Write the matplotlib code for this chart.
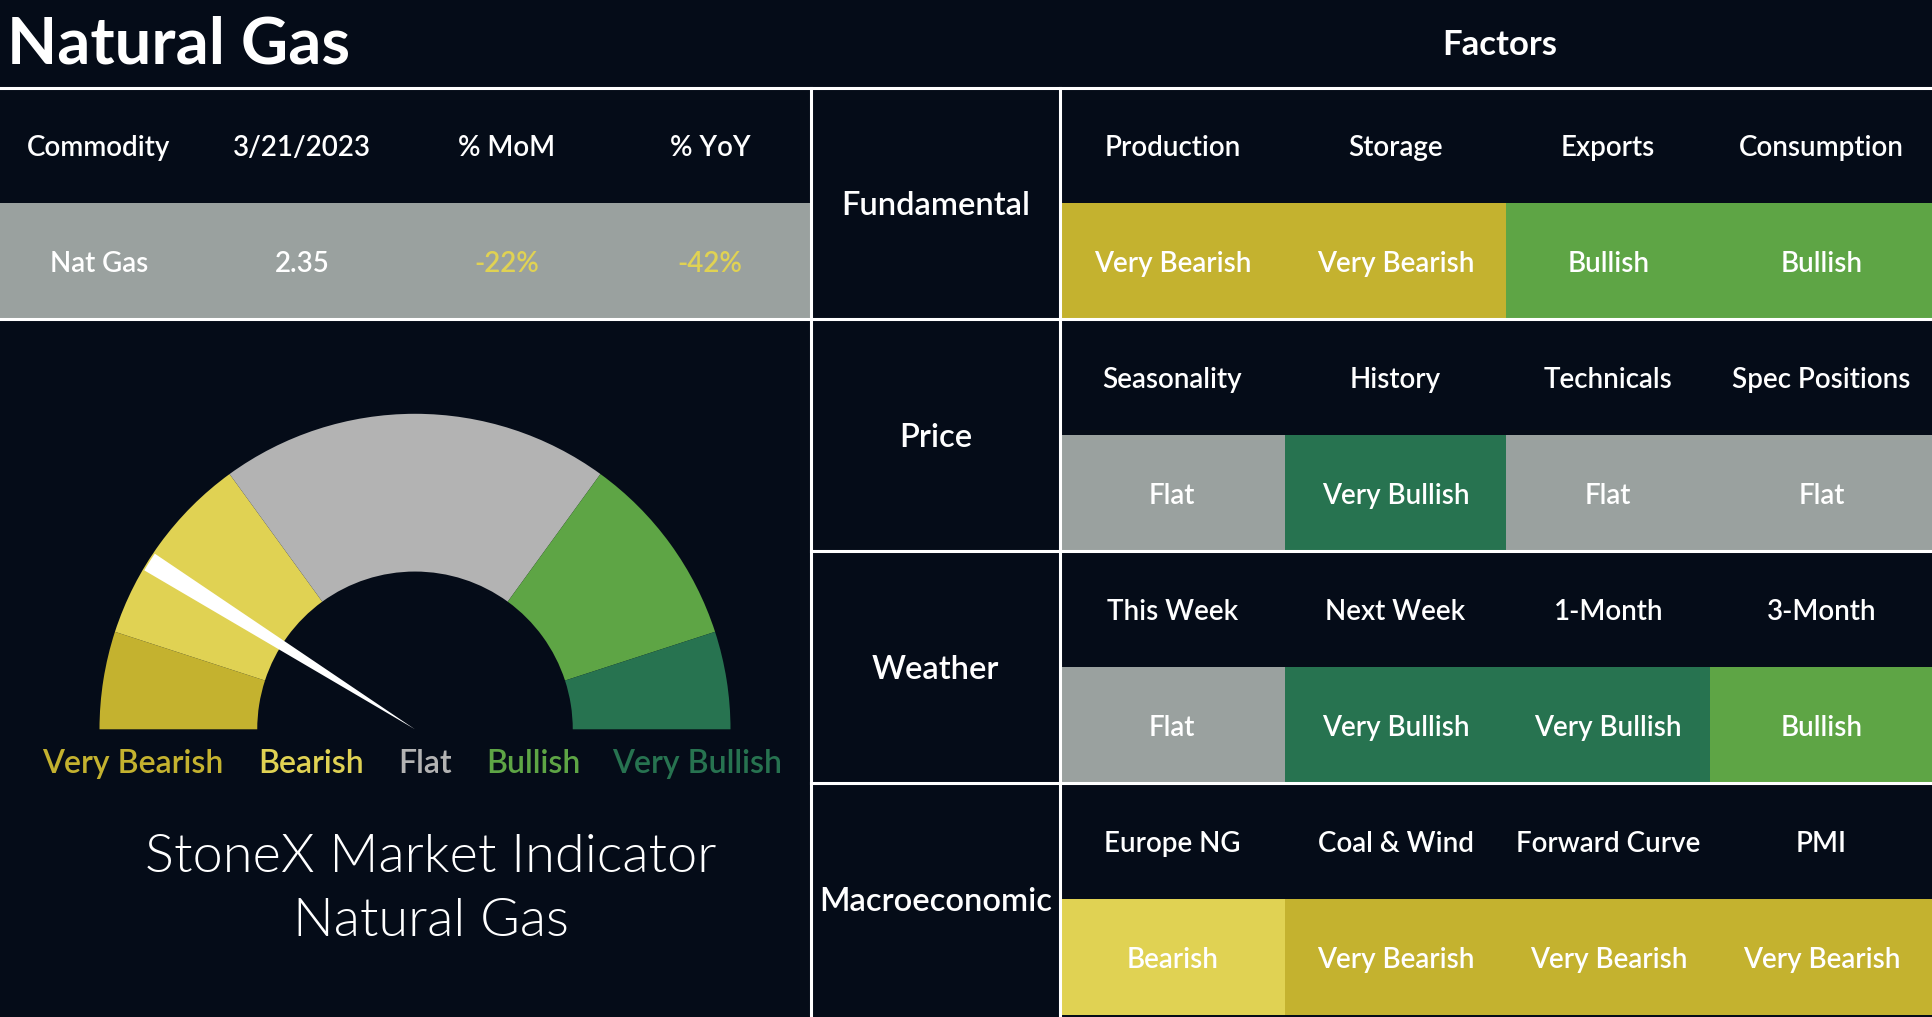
import matplotlib.pyplot as plt
from matplotlib.patches import Rectangle

plt.rcParams['font.family'] = ['Lato', 'DejaVu Sans']

# ---- data ----
commodity = 'Nat Gas'
price_date = '3/21/2023'
price = 2.35
mom_pct = -22
yoy_pct = -42

gauge_labels = ['Very Bearish', 'Bearish', 'Flat', 'Bullish', 'Very Bullish']
gauge_sizes = [10, 20, 40, 20, 10]
needle_value = 17.9      # position of the needle on the 0-100 gauge
needle_width = 2.0

factor_groups = ['Fundamental', 'Price', 'Weather', 'Macroeconomic']
fundamental_factors = ['Production', 'Storage', 'Exports', 'Consumption']
fundamental_ratings = ['Very Bearish', 'Very Bearish', 'Bullish', 'Bullish']
price_factors = ['Seasonality', 'History', 'Technicals', 'Spec Positions']
price_ratings = ['Flat', 'Very Bullish', 'Flat', 'Flat']
weather_factors = ['This Week', 'Next Week', '1-Month', '3-Month']
weather_ratings = ['Flat', 'Very Bullish', 'Very Bullish', 'Bullish']
macro_factors = ['Europe NG', 'Coal & Wind', 'Forward Curve', 'PMI']
macro_ratings = ['Bearish', 'Very Bearish', 'Very Bearish', 'Very Bearish']

# ---- styles ----
BG = '#050c18'
LINE = 'white'
GRAY_CELL = '#9aa19f'
rating_colors = {
    'Very Bearish': '#c4b22f',
    'Bearish': '#e0d253',
    'Flat': '#9aa19f',
    'Bullish': '#5ea545',
    'Very Bullish': '#277350',
}
gauge_colors = ['#c4b22f', '#e0d253', '#b3b3b3', '#5ea545', '#277350']
CELL_FS = 20
DY = 3  # small nudge so cap height sits centred like the original

W, H = 1933, 1017
fig = plt.figure(figsize=(W / 100, H / 100), dpi=100, facecolor=BG)
ax = fig.add_axes([0, 0, 1, 1])
ax.set_xlim(0, W)
ax.set_ylim(H, 0)
ax.axis('off')

# layout grid (pixels)
top_y = 87.5
row_h = 231.8
left_w = 811
group_x1 = 1060
col_edges = [1060, 1284.6, 1506.5, 1710, 1933]
left_cols = [99, 302, 507, 710]

# ---- title ----
ax.text(7, 42 + DY, 'Natural Gas', fontsize=47, fontweight='bold', color='white',
        ha='left', va='center')
ax.text((group_x1 + W) / 2 + 3, 42 + DY, 'Factors', fontsize=25, fontweight='bold',
        color='white', ha='center', va='center')

# ---- commodity table (top left) ----
ax.add_patch(Rectangle((0, top_y + row_h / 2), left_w, row_h / 2,
                       facecolor=GRAY_CELL, edgecolor='none'))
headers = ['Commodity', price_date, '% MoM', '% YoY']
values = [commodity, f'{price:.2f}', f'{mom_pct}%', f'{yoy_pct}%']
val_colors = ['white', 'white',
              rating_colors['Bearish'] if mom_pct < 0 else rating_colors['Bullish'],
              rating_colors['Bearish'] if yoy_pct < 0 else rating_colors['Bullish']]
for x, hd, v, c in zip(left_cols, headers, values, val_colors):
    ax.text(x, top_y + row_h / 4 + DY, hd, fontsize=CELL_FS, fontweight='semibold',
            color='white', ha='center', va='center')
    ax.text(x, top_y + 3 * row_h / 4 + DY, v, fontsize=CELL_FS, fontweight='semibold',
            color=c, ha='center', va='center')

# ---- factor table (right) ----
all_factors = [fundamental_factors, price_factors, weather_factors, macro_factors]
all_ratings = [fundamental_ratings, price_ratings, weather_ratings, macro_ratings]
for r, (grp, facs, rats) in enumerate(zip(factor_groups, all_factors, all_ratings)):
    y0 = top_y + r * row_h
    ax.text((left_w + group_x1) / 2, y0 + row_h / 2 + DY, grp, fontsize=23.5,
            fontweight='semibold', color='white', ha='center', va='center')
    for c, (f, rt) in enumerate(zip(facs, rats)):
        x0, x1 = col_edges[c], col_edges[c + 1]
        ax.add_patch(Rectangle((x0, y0 + row_h / 2), x1 - x0, row_h / 2,
                               facecolor=rating_colors[rt], edgecolor='none'))
        ax.text((x0 + x1) / 2, y0 + row_h / 4 + DY, f, fontsize=CELL_FS,
                fontweight='semibold', color='white', ha='center', va='center')
        ax.text((x0 + x1) / 2, y0 + 3 * row_h / 4 + DY, rt, fontsize=CELL_FS,
                fontweight='semibold', color='white', ha='center', va='center')

# ---- grid lines ----
lw = 2.2
ax.plot([0, W], [top_y, top_y], color=LINE, lw=lw)
ax.plot([0, W], [top_y + row_h, top_y + row_h], color=LINE, lw=lw)
for r in (2, 3):
    ax.plot([left_w, W], [top_y + r * row_h] * 2, color=LINE, lw=lw)
ax.plot([left_w, left_w], [top_y, H], color=LINE, lw=lw)
ax.plot([group_x1, group_x1], [top_y, H], color=LINE, lw=lw)

# ---- gauge ----
cx, cy, r_out = 415, 729.3, 315.5
gax = fig.add_axes([(cx - r_out) / W, (H - cy) / H, 2 * r_out / W, r_out / H])
wedges, _ = gax.pie(gauge_sizes + [sum(gauge_sizes)], radius=1, startangle=180,
                    counterclock=False, colors=gauge_colors + ['none'],
                    wedgeprops=dict(width=0.5, linewidth=0))
needle_parts = [needle_value - needle_width / 2, needle_width,
                2 * sum(gauge_sizes) - needle_value - needle_width / 2]
needle, _ = gax.pie(needle_parts, radius=0.995, startangle=180, counterclock=False,
                    colors=['none', 'white', 'none'], wedgeprops=dict(linewidth=0))
for p in list(wedges) + list(needle):
    p.set_clip_on(False)
gax.set_xlim(-1, 1)
gax.set_ylim(0, 1)
gax.set_aspect('auto')
gax.axis('off')

label_x = [133, 311, 425, 533, 697]
for x, lab, col in zip(label_x, gauge_labels, gauge_colors):
    ax.text(x, 761 + DY, lab, fontsize=23, fontweight='semibold', color=col,
            ha='center', va='center')

ax.text(431, 854 + DY, 'StoneX Market Indicator', fontsize=39, fontweight=300,
        color='white', ha='center', va='center')
ax.text(431, 919 + DY, 'Natural Gas', fontsize=39, fontweight=300,
        color='white', ha='center', va='center')

fig.savefig('out.png', dpi=100, facecolor=BG)
